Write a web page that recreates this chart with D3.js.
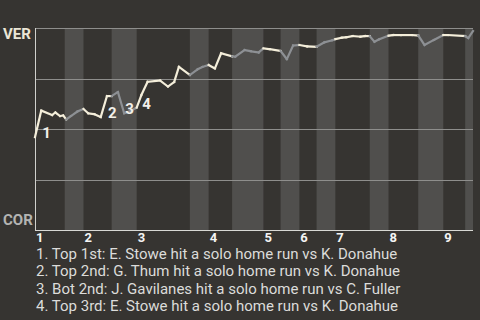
<!DOCTYPE html>
<html><head><meta charset="utf-8">
<script src="https://cdn.jsdelivr.net/npm/d3@7"></script>
<style>html,body{margin:0;padding:0;background:#363431;} svg{display:block}</style>
</head><body><svg id="c" width="480" height="320"></svg>
<script>
// ---- data ----
const awayTeam = "VER";
const homeTeam = "COR";
const inningLabels = ["1","2","3","4","5","6","7","8","9"];
// start of each half inning, measured in pitches (top 1, bot 1, top 2, ...)
const halfInningStarts = [0,19,31,49,65,99,111,126,146,157,169,180,192,214,226,245,261,275];
const gameEnd = 280;
// win probability of VER after each event
const pitch = [0,4,11,13,16,18,20,23,27,31,34,38,42,46,49,53,57,61,65,68,72,80,85,89,92,99,104,107,111,115,119,126,128,134,138,143,146,150,157,161,165,169,174,180,185,190,192,196,199,203,208,211,214,217,220,226,229,234,241,245,249,255,261,264,275,277,280];
const winProb = [0.46,0.591,0.569,0.582,0.564,0.567,0.547,0.564,0.586,0.599,0.578,0.573,0.559,0.663,0.663,0.683,0.578,0.589,0.606,0.668,0.734,0.740,0.710,0.733,0.808,0.767,0.796,0.807,0.817,0.800,0.875,0.860,0.858,0.891,0.885,0.879,0.899,0.895,0.886,0.846,0.913,0.916,0.909,0.907,0.929,0.939,0.945,0.952,0.954,0.960,0.957,0.960,0.960,0.932,0.944,0.962,0.965,0.965,0.965,0.963,0.916,0.941,0.965,0.965,0.960,0.950,0.985];
const homeRunEvent = [1,13,16,19];
const homeRunNotes = [
  "1. Top 1st: E. Stowe hit a solo home run vs K. Donahue",
  "2. Top 2nd: G. Thum hit a solo home run vs K. Donahue",
  "3. Bot 2nd: J. Gavilanes hit a solo home run vs C. Fuller",
  "4. Top 3rd: E. Stowe hit a solo home run vs K. Donahue"
];

// ---- drawing ----
const svg = d3.select("#c");
const font = "Roboto, 'Noto Sans', sans-serif";
const x = d3.scaleLinear().domain([0, gameEnd]).range([35, 473]);
const y = d3.scaleLinear().domain([0, 1]).range([230, 28]);
const halfOf = p => d3.bisectRight(halfInningStarts, p) - 1;

// stripes for bottom halves
halfInningStarts.forEach((s, i) => {
  if (i % 2 === 1) {
    const e = i + 1 < halfInningStarts.length ? halfInningStarts[i + 1] : gameEnd;
    svg.append("rect").attr("x", x(s)).attr("y", y(1)).attr("width", x(e) - x(s))
      .attr("height", y(0) - y(1)).attr("fill", "#504f4d");
  }
});

// grid lines
[1, 0.75, 0.5, 0.25].forEach(v => {
  svg.append("line").attr("x1", x(0)).attr("x2", x(gameEnd))
    .attr("y1", Math.round(y(v)) + 0.5).attr("y2", Math.round(y(v)) + 0.5)
    .attr("stroke", "#8e8e8c").attr("stroke-width", 1);
});
// axes lines
svg.append("line").attr("x1", x(0) + 0.5).attr("x2", x(0) + 0.5).attr("y1", y(1)).attr("y2", y(0) + 1)
  .attr("stroke", "#d0d0cc").attr("stroke-width", 1);
svg.append("line").attr("x1", x(0)).attr("x2", x(gameEnd)).attr("y1", y(0) + 0.5).attr("y2", y(0) + 0.5)
  .attr("stroke", "#d8d8d4").attr("stroke-width", 1);

// team labels
svg.append("text").attr("x", 3).attr("y", y(1) + 11).text(awayTeam)
  .attr("font-family", font).attr("font-size", 15).attr("font-weight", "bold").attr("fill", "#ebe6d6");
svg.append("text").attr("x", 3).attr("y", y(0) - 5).text(homeTeam)
  .attr("font-family", font).attr("font-size", 15).attr("font-weight", "bold").attr("fill", "#b4b4b2");

// inning labels
inningLabels.forEach((t, i) => {
  svg.append("text").attr("x", x(halfInningStarts[i * 2]) + 1).attr("y", y(0) + 12).text(t)
    .attr("font-family", font).attr("font-size", 13).attr("font-weight", "bold").attr("fill", "#f4f4f4");
});

// win probability line
const pts = pitch.map((p, i) => [p, winProb[i]]);
const line = d3.line().x(d => x(d[0])).y(d => y(d[1]));
for (let i = 0; i < pts.length - 1; i++) {
  const bottom = halfOf(pts[i][0]) % 2 === 1;
  svg.append("path").attr("d", line([pts[i], pts[i + 1]]))
    .attr("fill", "none").attr("stroke", bottom ? "#8d9094" : "#f4eeda")
    .attr("stroke-width", 2.2).attr("stroke-linecap", "square");
}

// home run markers
homeRunEvent.forEach((ev, i) => {
  const lower = Math.min(winProb[ev], winProb[ev - 1]);
  svg.append("text").attr("x", x(pitch[ev]) + 1).attr("y", y(lower) + 1).text(String(i + 1))
    .attr("font-family", font).attr("font-size", 15).attr("font-weight", "bold").attr("fill", "#f2f0ea");
});

// notes
homeRunNotes.forEach((t, i) => {
  svg.append("text").attr("x", 36).attr("y", 258.5 + i * 17.5).text(t)
    .attr("font-family", font).attr("font-size", 15).attr("fill", "#dcdcda");
});
</script></body></html>
